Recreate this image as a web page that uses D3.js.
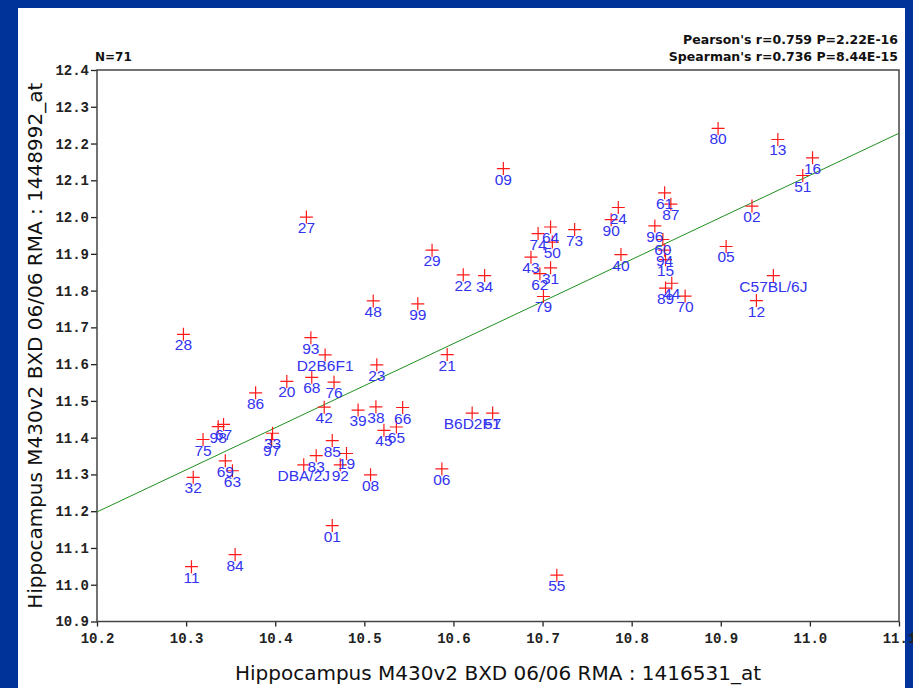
<!DOCTYPE html>
<html lang="en">
<head>
<meta charset="utf-8">
<title>Correlation scatterplot</title>
<script src="https://d3js.org/d3.v7.min.js"></script>
<style>
    body { margin: 0; background: #003399; }
</style>
</head>
<body>
<div id="chart"></div>
<script>
    // strain labels and their two expression values
    var strains = ["28","93","D2B6F1","23","20","68","76","86","42","39","38","45","98","67","75","33","97","69","63","32",
                   "85","19","83","DBA/2J","92","08","48","11","84","01","65","55","21","66","B6D2F1","57","06","09","74","64",
                   "50","73","43","62","31","79","34","24","90","40","96","61","87","60","94","15","89","44","70","02",
                   "05","C57BL/6J","12","51","80","13","16","27","29","22","99"];
    var xVals = [10.297,10.440,10.456,10.514,10.413,10.441,10.466,10.378,10.455,10.493,10.513,10.522,10.336,10.342,10.319,10.397,10.396,10.344,10.352,10.308,
                 10.464,10.480,10.446,10.432,10.473,10.507,10.510,10.306,10.355,10.464,10.536,10.716,10.593,10.543,10.621,10.644,10.587,10.656,10.695,10.709,
                 10.711,10.736,10.687,10.697,10.709,10.701,10.635,10.785,10.777,10.788,10.826,10.837,10.844,10.835,10.837,10.838,10.838,10.845,10.860,10.935,
                 10.906,10.959,10.940,10.992,10.897,10.964,11.003,10.435,10.576,10.611,10.560];
    var yVals = [11.681,11.672,11.625,11.598,11.553,11.564,11.551,11.522,11.483,11.475,11.484,11.420,11.430,11.436,11.395,11.412,11.395,11.337,11.310,11.292,
                 11.392,11.357,11.351,11.326,11.326,11.299,11.772,11.049,11.082,11.161,11.429,11.026,11.626,11.482,11.467,11.467,11.315,12.132,11.955,11.973,
                 11.932,11.966,11.891,11.846,11.862,11.784,11.841,12.026,11.993,11.898,11.976,12.066,12.035,11.939,11.910,11.884,11.807,11.820,11.785,12.030,
                 11.920,11.841,11.773,12.113,12.241,12.211,12.161,12.000,11.910,11.843,11.764];

    var xTicks = [10.2,10.3,10.4,10.5,10.6,10.7,10.8,10.9,11.0,11.1];
    var yTicks = [10.9,11.0,11.1,11.2,11.3,11.4,11.5,11.6,11.7,11.8,11.9,12.0,12.1,12.2,12.3,12.4];

    // fitted line, read at both ends of the x range
    var fitX = [10.2, 11.1];
    var fitY = [11.198, 12.228];

    var statLines = ["Pearson's r=0.759 P=2.22E-16", "Spearman's r=0.736 P=8.44E-15"];
    var nLabel = "N=71";
    var xTitle = "Hippocampus M430v2 BXD 06/06 RMA : 1416531_at";
    var yTitle = "Hippocampus M430v2 BXD 06/06 RMA : 1448992_at";

    var W = 913, H = 688;
    var margin = {top: 70, right: 14, bottom: 66.5, left: 97};

    var svg = d3.select("#chart").append("svg")
        .attr("width", W)
        .attr("height", H)
        .style("display", "block");

    // blue frame + white page
    svg.append("rect").attr("width", W).attr("height", H).attr("fill", "#003399");
    svg.append("rect").attr("x", 18).attr("y", 8).attr("width", W - 18 - 8).attr("height", H - 8).attr("fill", "#fff");

    var x = d3.scaleLinear().domain([10.2, 11.1]).range([margin.left, W - margin.right]);
    var y = d3.scaleLinear().domain([10.9, 12.4]).range([H - margin.bottom, margin.top]);

    var tickFont = "'Liberation Mono', 'DejaVu Sans Mono', monospace";

    var gx = svg.append("g")
        .attr("transform", "translate(0," + (H - margin.bottom) + ")")
        .call(d3.axisBottom(x).tickValues(xTicks).tickFormat(d3.format(".1f")).tickSize(5).tickSizeOuter(0));
    var gy = svg.append("g")
        .attr("transform", "translate(" + margin.left + ",0)")
        .call(d3.axisLeft(y).tickValues(yTicks).tickFormat(d3.format(".1f")).tickSize(6).tickSizeOuter(0));

    [gx, gy].forEach(function(g) {
        g.select(".domain").remove();
        g.selectAll(".tick line").attr("stroke", "#222").attr("stroke-width", 1.3);
        g.selectAll("text")
            .style("font-family", tickFont)
            .style("font-weight", "bold")
            .style("font-size", "14px")
            .attr("fill", "#222");
    });
    gx.selectAll("text").attr("dy", 0).attr("y", 21.5);
    gy.selectAll("text").attr("x", -8);

    // plot frame
    svg.append("rect")
        .attr("x", x(10.2)).attr("y", y(12.4))
        .attr("width", x(11.1) - x(10.2)).attr("height", y(10.9) - y(12.4))
        .attr("fill", "none").attr("stroke", "#444").attr("stroke-width", 1.5);

    // regression line
    svg.append("line")
        .attr("x1", x(fitX[0])).attr("y1", y(fitY[0]))
        .attr("x2", x(fitX[1])).attr("y2", y(fitY[1]))
        .attr("stroke", "#1f8f1f").attr("stroke-width", 1);

    var pts = strains.map(function(s, i) { return {name: s, x: xVals[i], y: yVals[i]}; });

    svg.append("g").selectAll("path")
        .data(pts).enter().append("path")
        .attr("d", function(d) {
            var cx = x(d.x), cy = y(d.y), r = 6.5;
            return "M" + (cx - r) + "," + cy + "H" + (cx + r) + "M" + cx + "," + (cy - r) + "V" + (cy + r);
        })
        .attr("stroke", "#ff1a1a").attr("stroke-width", 1.2).attr("fill", "none");

    svg.append("g").selectAll("text")
        .data(pts).enter().append("text")
        .attr("x", function(d) { return x(d.x); })
        .attr("y", function(d) { return y(d.y) + 16; })
        .attr("text-anchor", "middle")
        .style("font-family", "'Liberation Sans', Arial, sans-serif")
        .style("font-size", "15.5px")
        .attr("fill", "#3333f0")
        .text(function(d) { return d.name; });

    var headFont = "'DejaVu Sans', sans-serif";
    svg.append("text")
        .attr("x", 95).attr("y", 61)
        .style("font-family", headFont).style("font-weight", "bold").style("font-size", "12px")
        .attr("fill", "#111")
        .text(nLabel);
    svg.selectAll(".stat").data(statLines).enter().append("text")
        .attr("class", "stat")
        .attr("x", 898).attr("y", function(d, i) { return 44 + i * 17; })
        .attr("text-anchor", "end")
        .style("font-family", headFont).style("font-weight", "bold").style("font-size", "12.5px")
        .attr("fill", "#111")
        .text(function(d) { return d; });

    var titleFont = "'DejaVu Sans', sans-serif";
    svg.append("text")
        .attr("x", (x(10.2) + x(11.1)) / 2).attr("y", 680)
        .attr("text-anchor", "middle")
        .style("font-family", titleFont).style("font-size", "20px")
        .attr("fill", "#111")
        .text(xTitle);
    svg.append("text")
        .attr("transform", "translate(42," + ((y(10.9) + y(12.4)) / 2) + ") rotate(-90)")
        .attr("text-anchor", "middle")
        .style("font-family", titleFont).style("font-size", "20px")
        .attr("fill", "#111")
        .text(yTitle);
</script>
</body>
</html>
